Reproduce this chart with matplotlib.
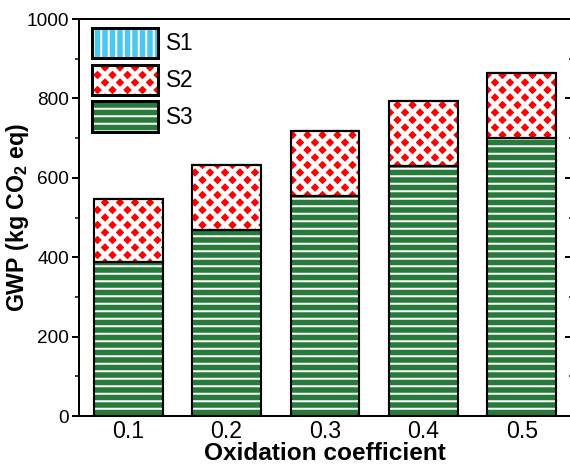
import matplotlib
matplotlib.use("Agg")
import matplotlib.pyplot as plt
from matplotlib.patches import Patch, Rectangle
from matplotlib.legend_handler import HandlerBase
from matplotlib.ticker import MultipleLocator

plt.rcParams['font.family'] = ['Liberation Sans', 'DejaVu Sans']
plt.rcParams['mathtext.fontset'] = 'custom'
plt.rcParams['mathtext.rm'] = 'Liberation Sans:bold'
plt.rcParams['mathtext.bf'] = 'Liberation Sans:bold'

categories = ['0.1', '0.2', '0.3', '0.4', '0.5']
s3 = [388, 468, 553, 630, 700]
s2 = [159, 164, 166, 163, 164]
s1 = [0, 0, 0, 0, 0]

green = '#267a3a'
red = '#ff0000'
blue = '#4cc6f2'

HATCH_LW = {'--': 1.6, 'xx': 3.6, '||': 1.6}

DPI = 90
fig = plt.figure(figsize=(570 / DPI, 464 / DPI), dpi=DPI)
ax = fig.add_axes([0.1386, 0.1034, 0.8632, 0.8556])

x = list(range(1, len(categories) + 1))
width = 0.7
edge_lw = 1.7

def layer(bottom, height, face, hatch):
    # hatched fill with white pattern, then a black outline on top
    with plt.rc_context({'hatch.linewidth': HATCH_LW[hatch]}):
        ax.bar(x, height, width, bottom=bottom, color=face, hatch=hatch,
               edgecolor='white', linewidth=0, zorder=2)
    ax.bar(x, height, width, bottom=bottom, fill=False,
           edgecolor='black', linewidth=edge_lw, zorder=3)

tot2 = [a + b for a, b in zip(s3, s2)]
layer([0] * 5, s3, green, '--')
layer(s3, s2, red, 'xx')
layer(tot2, s1, blue, '||')

ax.set_xlim(0.5, 5.5)
ax.set_ylim(0, 1000)
ax.set_xticks(x)
ax.set_xticklabels(categories)
ax.yaxis.set_major_locator(MultipleLocator(200))
ax.yaxis.set_minor_locator(MultipleLocator(100))

for s in ax.spines.values():
    s.set_linewidth(1.6)

ax.tick_params(axis='x', length=0, labelsize=18.5, pad=3)
ax.tick_params(axis='y', which='major', direction='out', length=6, width=1.6,
               labelsize=15.2, pad=2)
ax.tick_params(axis='y', which='minor', direction='out', length=3, width=1.2)

# mirrored ticks on the right side, pointing inward
sec = ax.secondary_yaxis('right')
sec.yaxis.set_major_locator(MultipleLocator(200))
sec.yaxis.set_minor_locator(MultipleLocator(100))
sec.tick_params(which='major', direction='in', length=5, width=1.6, labelright=False)
sec.tick_params(which='minor', direction='in', length=2, width=1.2)
sec.spines['right'].set_linewidth(1.6)

ax.set_xlabel('Oxidation coefficient', fontsize=19.5, fontweight='bold', labelpad=-1)
ax.set_ylabel(r'GWP (kg CO$_\mathregular{2}$ eq)', fontsize=18.5, fontweight='bold')
ax.yaxis.set_label_coords(-0.098, 0.5)


class HatchBoxHandler(HandlerBase):
    """Legend key: white-hatched coloured box with a black frame."""

    def __init__(self, face, hatch):
        super().__init__()
        self.face = face
        self.hatch = hatch

    def create_artists(self, legend, orig_handle, xdescent, ydescent,
                       width, height, fontsize, trans):
        with plt.rc_context({'hatch.linewidth': HATCH_LW[self.hatch]}):
            fill = Rectangle((-xdescent, -ydescent), width, height,
                             facecolor=self.face, hatch=self.hatch,
                             edgecolor='white', linewidth=0, transform=trans)
        frame = Rectangle((-xdescent, -ydescent), width, height, fill=False,
                          edgecolor='black', linewidth=2.4, transform=trans)
        return [fill, frame]


series_style = [('S1', blue, '||'), ('S2', red, 'xx'), ('S3', green, '--')]
handles, hmap = [], {}
for name, face, hatch in series_style:
    h = Patch(label=name)
    handles.append(h)
    hmap[h] = HatchBoxHandler(face, hatch)

ax.legend(handles=handles, handler_map=hmap,
          loc='upper left', bbox_to_anchor=(0.006, 1.003), frameon=False, fontsize=18,
          handlelength=2.93, handleheight=1.7, labelspacing=0.28, handletextpad=0.35,
          borderpad=0.25, borderaxespad=0.2)

fig.savefig('out.png', dpi=DPI)
